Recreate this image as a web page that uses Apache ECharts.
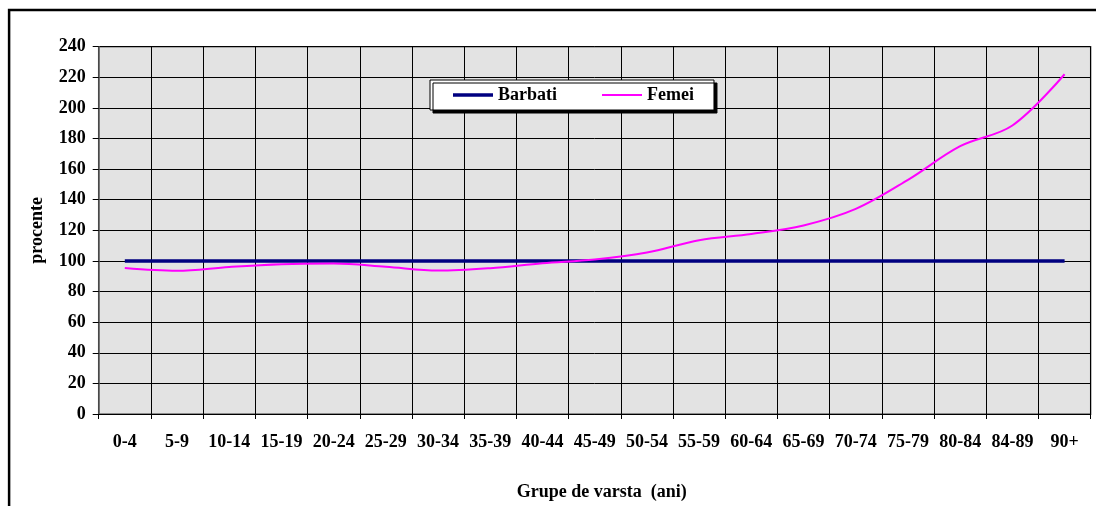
<!DOCTYPE html>
<html>
<head>
<meta charset="utf-8">
<script src="https://cdn.jsdelivr.net/npm/echarts@6/dist/echarts.min.js"></script>
<style>
html,body{margin:0;padding:0;background:#fff;}
#c{width:1096px;height:506px;}
</style>
</head>
<body>
<div id="c"></div>
<script>
var categories = ['0-4','5-9','10-14','15-19','20-24','25-29','30-34','35-39','40-44','45-49','50-54','55-59','60-64','65-69','70-74','75-79','80-84','84-89','90+'];
var barbati = [100,100,100,100,100,100,100,100,100,100,100,100,100,100,100,100,100,100,100];
var femei = [95.4,93.6,96.1,97.9,98.3,96.2,93.7,95.3,98.5,101,105.5,113.6,117.6,123.2,134,153,175,188.5,222];
var yTicks = {min:0, max:240, interval:20};

var font = 'Liberation Serif';
var chart = echarts.init(document.getElementById('c'), null, {renderer:'canvas'});
chart.setOption({
  animation:false,
  backgroundColor:'#ffffff',
  graphic:[{
    type:'rect', left:6.6, top:7.6, z:100, silent:true,
    shape:{x:0,y:0,width:2000,height:2000},
    style:{fill:'none', stroke:'#000', lineWidth:2.5}
  }],
  grid:{left:98.7, top:46.7, right:5.3, bottom:90.3, show:true, backgroundColor:'#E3E3E3', borderColor:'#707070', borderWidth:1.5},
  legend:{
    left:430, top:80,
    padding:[6,20,6,23],
    backgroundColor:'#fff', borderColor:'#000', borderWidth:1,
    shadowColor:'#000', shadowBlur:0, shadowOffsetX:3, shadowOffsetY:3,
    itemWidth:40, itemHeight:14, itemGap:45,
    textStyle:{fontFamily:font, fontWeight:'bold', fontSize:18, color:'#000'},
    data:[
      {name:'Barbati', icon:'path://M0,0h40v3.5h-40z'},
      {name:'Femei', icon:'path://M0,0h40v2h-40z'}
    ]
  },
  xAxis:{
    type:'category', data:categories, boundaryGap:true,
    axisLine:{show:true, lineStyle:{color:'#000', width:1}},
    axisTick:{show:true, length:5, lineStyle:{color:'#000'}},
    axisLabel:{fontFamily:font, fontWeight:'bold', fontSize:18, color:'#000', margin:19, interval:0},
    splitLine:{show:true, lineStyle:{color:'#000', width:1}},
    name:'Grupe de varsta  (ani)', nameLocation:'middle', nameGap:69,
    nameTextStyle:{fontFamily:font, fontWeight:'bold', fontSize:18, color:'#000', padding:[0,0,0,14]}
  },
  yAxis:{
    type:'value', min:yTicks.min, max:yTicks.max, interval:yTicks.interval,
    axisLine:{show:true, lineStyle:{color:'#606060', width:1.5}},
    axisTick:{show:true, length:6, lineStyle:{color:'#000'}},
    axisLabel:{fontFamily:font, fontWeight:'bold', fontSize:18, color:'#000', margin:13},
    splitLine:{show:true, lineStyle:{color:'#000', width:1}},
    name:'procente', nameLocation:'middle', nameGap:52, nameRotate:90,
    nameTextStyle:{fontFamily:font, fontWeight:'bold', fontSize:18, color:'#000'}
  },
  series:[
    {name:'Barbati', type:'line', data:barbati, symbol:'none', lineStyle:{color:'#000080', width:3.5}, itemStyle:{color:'#000080'}, z:3},
    {name:'Femei', type:'line', data:femei, symbol:'none', smooth:0.35, lineStyle:{color:'#FF00FF', width:2}, itemStyle:{color:'#FF00FF'}, z:4}
  ]
});
</script>
</body>
</html>
